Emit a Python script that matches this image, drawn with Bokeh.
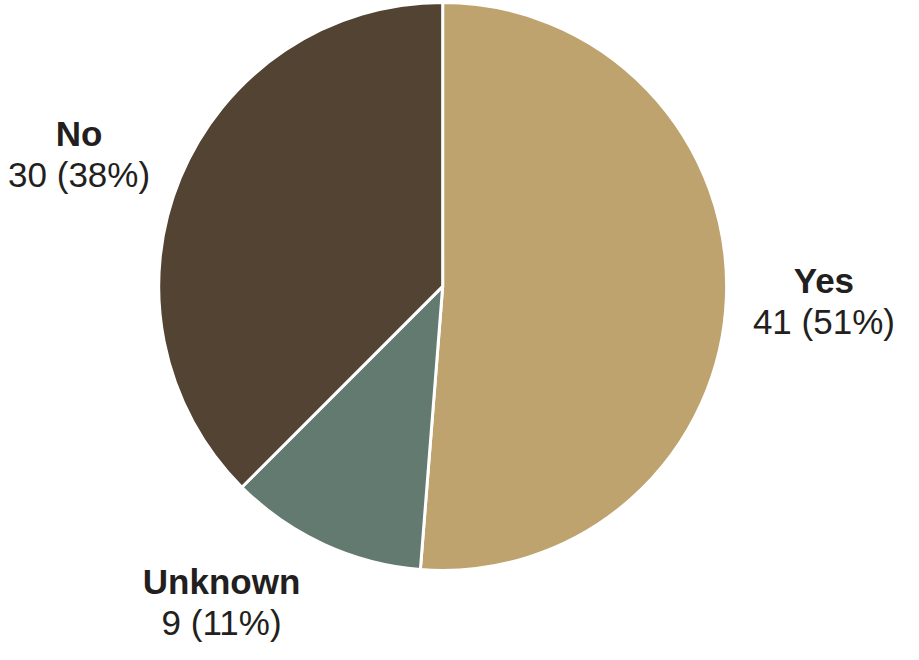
import math
from bokeh.plotting import figure
from bokeh.models import Range1d, ColumnDataSource
from bokeh.embed import file_html
from bokeh.resources import INLINE
from bokeh.core.properties import value

# ---- data ----
categories = ["Yes", "Unknown", "No"]
counts = [41, 9, 30]
colors = ["#BEA36F", "#627A70", "#524332"]

# ---- layout (reference-pixel offsets of each label block from pie centre) ----
label_dx = [388, -225, -370]
label_dy = [15, 323, -136]   # positive = downward on screen

W, H = 903, 644
SX, SY = W / 919, H / 660    # reference px -> figure px
CX_REF, CY_REF = 450, 293
R = 290 * (SX + SY) / 2
FONT = value("Liberation Sans")
TXT = "#231F20"

def to_data(rx, ry):
    return rx * SX, H - ry * SY

cx, cy = to_data(CX_REF, CY_REF)

total = sum(counts)
starts, ends = [], []
acc = 0
for c in counts:
    s = math.pi / 2 - 2 * math.pi * acc / total
    e = s - 2 * math.pi * c / total
    starts.append(s)
    ends.append(e)
    acc += c

p = figure(width=W, height=H, x_range=Range1d(0, W), y_range=Range1d(0, H),
           output_backend="svg", toolbar_location=None, min_border=0,
           x_axis_type=None, y_axis_type=None)
p.grid.visible = False
p.outline_line_color = None

src = ColumnDataSource(dict(start=starts, end=ends, color=colors))
p.wedge(x=cx, y=cy, radius=R, start_angle="start", end_angle="end",
        direction="clock", fill_color="color", line_color="white",
        line_width=3, source=src)

name_x, name_y, val_x, val_y, val_txt = [], [], [], [], []
for cat, c, dx, dy in zip(categories, counts, label_dx, label_dy):
    rx, ry = CX_REF + dx, CY_REF + dy
    x, y = to_data(rx, ry - 21)
    name_x.append(x); name_y.append(y)
    x2, y2 = to_data(rx, ry + 21)
    val_x.append(x2); val_y.append(y2)
    pct = int(c * 100 / total + 0.5)
    val_txt.append(f"{c} ({pct}%)")

p.text(x=name_x, y=name_y, text=categories, text_font=FONT,
       text_font_size="35px", text_font_style="bold", text_color=TXT,
       text_align="center", text_baseline="middle")
p.text(x=val_x, y=val_y, text=val_txt, text_font=FONT,
       text_font_size="35px", text_color=TXT,
       text_align="center", text_baseline="middle")

open("out.html", "w").write(file_html(p, INLINE))
